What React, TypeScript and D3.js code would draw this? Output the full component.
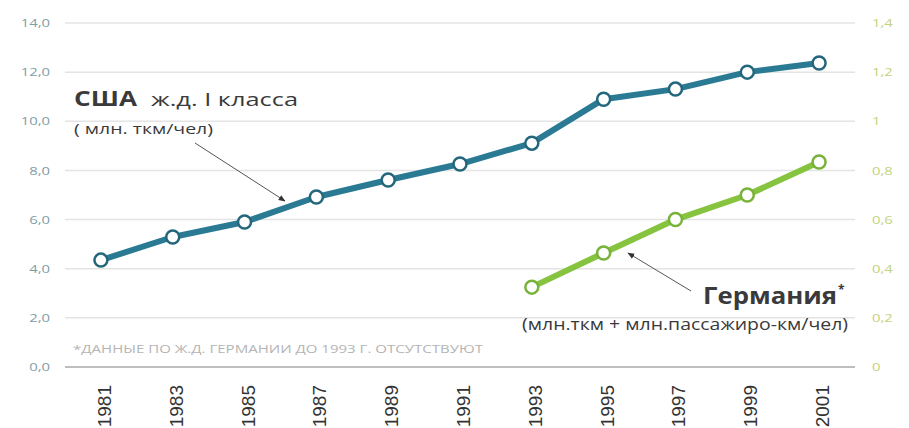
import React from "react";
import * as d3 from "d3";

const years = ["1981", "1983", "1985", "1987", "1989", "1991", "1993", "1995", "1997", "1999", "2001"];
const usaValues = [4.35, 5.29, 5.9, 6.92, 7.61, 8.26, 9.11, 10.9, 11.31, 12.0, 12.37];
const germanyYears = ["1993", "1995", "1997", "1999", "2001"];
const germanyValues = [0.325, 0.464, 0.6, 0.7, 0.834];
const leftTicks = [0, 2, 4, 6, 8, 10, 12, 14];
const rightTicks = [0, 0.2, 0.4, 0.6, 0.8, 1, 1.2, 1.4];

const W = 909;
const H = 428;
const plotL = 65;
const plotR = 855;
const yTop = 23;
const yBot = 367;

const USA_COLOR = "#2b7a93";
const GER_COLOR = "#86c440";

export default function App() {
  const x = d3.scaleBand<string>().domain(years).range([plotL, plotR]).padding(0);
  const cx = (y: string) => (x(y) as number) + x.bandwidth() / 2;
  const yL = d3.scaleLinear().domain([0, 14]).range([yBot, yTop]);
  const yR = d3.scaleLinear().domain([0, 1.4]).range([yBot, yTop]);

  const usaPts = years.map((yr, i) => [cx(yr), yL(usaValues[i])] as [number, number]);
  const gerPts = germanyYears.map((yr, i) => [cx(yr), yR(germanyValues[i])] as [number, number]);
  const line = d3.line();

  const fmtL = (v: number) => v.toFixed(1).replace(".", ",");
  const fmtR = (v: number) => (v === 0 ? "0" : v === 1 ? "1" : String(+v.toFixed(1)).replace(".", ","));

  return (
    <svg width={W} height={H} style={{ position: "absolute", left: 0, top: 0, background: "#fff" }}>
      <defs>
        <marker id="ah" viewBox="0 0 10 10" refX="9" refY="5" markerWidth="7" markerHeight="7" orient="auto-start-reverse">
          <path d="M0,1 L10,5 L0,9 z" fill="#333" />
        </marker>
      </defs>
      <rect x={0} y={0} width={W} height={H} fill="#fff" />
      {leftTicks.map((t) => (
        <g key={"g" + t}>
          <line
            x1={plotL}
            x2={plotR}
            y1={yL(t)}
            y2={yL(t)}
            stroke={t === 0 ? "#a8a8a8" : "#e4e4e4"}
            strokeWidth={1.5}
          />
          <text
            transform={`translate(50,${yL(t)}) scale(1.35,1)`}
            textAnchor="end"
            dominantBaseline="central"
            fontFamily="Open Sans"
            fontSize={11}
            fill="#7f9ea6"
          >
            {fmtL(t)}
          </text>
        </g>
      ))}
      {rightTicks.map((t) => (
        <text
          key={"r" + t}
          transform={`translate(872,${yR(t)}) scale(1.35,1)`}
          textAnchor="start"
          dominantBaseline="central"
          fontFamily="Open Sans"
          fontSize={11}
          fill="#c3d27c"
        >
          {fmtR(t)}
        </text>
      ))}
      {years.map((yr) => (
        <text
          key={"x" + yr}
          transform={`translate(${cx(yr) + 10},${385}) rotate(-90)`}
          textAnchor="end"
          dominantBaseline="auto"
          fontFamily="Liberation Sans, Arial, sans-serif"
          fontSize={19}
          fill="#333"
        >
          {yr}
        </text>
      ))}
      <text x={73} y={353} fontFamily="Open Sans" fontSize={10.5} fill="#b4b4b4" textLength={410} lengthAdjust="spacingAndGlyphs">
        *ДАННЫЕ ПО Ж.Д. ГЕРМАНИИ  ДО 1993 Г. ОТСУТСТВУЮТ
      </text>

      <path d={line(usaPts) || ""} fill="none" stroke={USA_COLOR} strokeWidth={6} strokeLinejoin="round" />
      {usaPts.map((p, i) => (
        <circle key={"u" + i} cx={p[0]} cy={p[1]} r={6.5} fill="#fff" stroke="#24677d" strokeWidth={2.5} />
      ))}
      <path d={line(gerPts) || ""} fill="none" stroke={GER_COLOR} strokeWidth={6} strokeLinejoin="round" />
      {gerPts.map((p, i) => (
        <circle key={"gm" + i} cx={p[0]} cy={p[1]} r={6.5} fill="#fff" stroke="#78b23a" strokeWidth={2.5} />
      ))}

      <text x={74} y={106} fontFamily="Open Sans" fontSize={22} fontWeight="bold" fill="#3a3a3a" textLength={63} lengthAdjust="spacingAndGlyphs">
        США
      </text>
      <text x={151} y={106} fontFamily="Open Sans" fontSize={19} fill="#3a3a3a" textLength={147} lengthAdjust="spacingAndGlyphs">
        ж.д. I класса
      </text>
      <text x={74} y={134} fontFamily="Open Sans" fontSize={15} fill="#3a3a3a" textLength={139} lengthAdjust="spacingAndGlyphs">
        ( млн. ткм/чел)
      </text>
      <line x1={195} y1={143} x2={285} y2={201} stroke="#555" strokeWidth={1} markerEnd="url(#ah)" />

      <text x={703} y={304} fontFamily="Open Sans" fontSize={23} fontWeight="bold" fill="#3a3a3a" textLength={134} lengthAdjust="spacingAndGlyphs">
        Германия
      </text>
      <text x={838} y={294} fontFamily="Open Sans" fontSize={12} fontWeight="bold" fill="#3a3a3a">
        *
      </text>
      <text x={522} y={330} fontFamily="Open Sans" fontSize={16} fill="#3a3a3a" textLength={326} lengthAdjust="spacingAndGlyphs">
        (млн.ткм + млн.пассажиро-км/чел)
      </text>
      <line x1={691} y1={291} x2={628} y2={253} stroke="#555" strokeWidth={1} markerEnd="url(#ah)" />
    </svg>
  );
}
